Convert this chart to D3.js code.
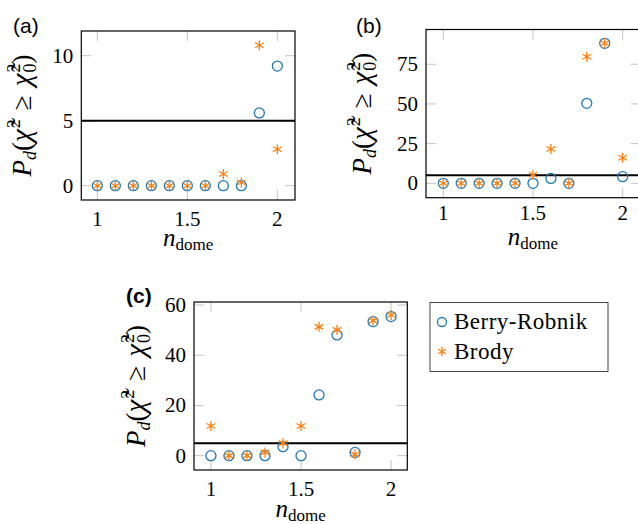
<!DOCTYPE html>
<html>
<head>
<meta charset="utf-8">
<script src="https://cdn.jsdelivr.net/npm/d3@7"></script>
<style>
  html, body { margin: 0; padding: 0; background: #fff; }
  svg { display: block; }
</style>
</head>
<body>
<svg id="chart" width="638" height="524"></svg>
<script>
// Dome exponent values shared by all panels
const nDome = [1.0, 1.1, 1.2, 1.3, 1.4, 1.5, 1.6, 1.7, 1.8, 1.9, 2.0];

// P_d (%) for each fit, per panel
const berryA = [0, 0, 0, 0, 0, 0, 0, 0, 0, 5.6, 9.2];
const brodyA = [0, 0, 0, 0, 0, 0, 0, 0.9, 0.25, 10.8, 2.8];
const berryB = [0, 0, 0, 0, 0, 0, 3.1, 0, 50.4, 88.2, 4.2];
const brodyB = [0, 0, 0, 0, 0, 5.4, 21.6, 0, 79.7, 88.2, 16.1];
const berryC = [0, 0, 0, 0, 3.6, 0, 24.2, 48.1, 1.3, 53.4, 55.4];
const brodyC = [11.8, 0, 0, 1.3, 5.0, 11.8, 51.3, 50.1, 0.5, 53.8, 56.0];

// Significance threshold (%)
const threshold = 5;

// Tick values
const xTicks = [1, 1.5, 2];
const yTicksA = [0, 5, 10];
const yTicksB = [0, 25, 50, 75];
const yTicksC = [0, 20, 40, 60];

const seriesNames = ["Berry-Robnik", "Brody"];

const BLUE = "#1f77b4";
const ORANGE = "#ff7f0e";
const SERIF = "'Liberation Serif', 'DejaVu Serif', serif";
const SANS = "'Liberation Sans', Arial, sans-serif";

const svg = d3.select("#chart");

// six-armed asterisk marker
function asteriskPath(r) {
  const p = d3.path();
  [90, 30, 150].forEach(a => {
    const t = a * Math.PI / 180;
    p.moveTo(-r * Math.cos(t), -r * Math.sin(t));
    p.lineTo(r * Math.cos(t), r * Math.sin(t));
  });
  return p.toString();
}

function drawPanel(cfg) {
  const g = svg.append("g");
  const x = d3.scaleLinear().domain(cfg.xDomain).range([cfg.left, cfg.right]);
  const y = d3.scaleLinear().domain(cfg.yDomain).range([cfg.bottom, cfg.top]);
  const tickLen = 10;

  // light tick marks inside the frame on all sides
  const tg = g.append("g").attr("stroke", "#c4c4c4").attr("stroke-width", 1);
  cfg.xTicks.forEach(v => {
    tg.append("line").attr("x1", x(v)).attr("x2", x(v)).attr("y1", cfg.bottom).attr("y2", cfg.bottom - tickLen);
    tg.append("line").attr("x1", x(v)).attr("x2", x(v)).attr("y1", cfg.top).attr("y2", cfg.top + tickLen);
  });
  cfg.yTicks.forEach(v => {
    tg.append("line").attr("y1", y(v)).attr("y2", y(v)).attr("x1", cfg.left).attr("x2", cfg.left + tickLen);
    tg.append("line").attr("y1", y(v)).attr("y2", y(v)).attr("x1", cfg.right).attr("x2", cfg.right - tickLen);
  });

  // threshold line
  g.append("line")
    .attr("x1", cfg.left).attr("x2", cfg.right)
    .attr("y1", y(threshold)).attr("y2", y(threshold))
    .attr("stroke", "#000").attr("stroke-width", 2);

  // Berry-Robnik: open circles
  g.append("g").selectAll("circle")
    .data(nDome.map((n, i) => [n, cfg.berry[i]]))
    .join("circle")
    .attr("cx", d => x(d[0])).attr("cy", d => y(d[1])).attr("r", 5)
    .attr("fill", "none").attr("stroke", BLUE).attr("stroke-width", 1.3);

  // Brody: asterisks
  g.append("g").selectAll("path")
    .data(nDome.map((n, i) => [n, cfg.brody[i]]))
    .join("path")
    .attr("transform", d => `translate(${x(d[0])},${y(d[1])})`)
    .attr("d", asteriskPath(5))
    .attr("fill", "none").attr("stroke", ORANGE).attr("stroke-width", 1.3);

  // frame
  g.append("rect")
    .attr("x", cfg.left).attr("y", cfg.top)
    .attr("width", cfg.right - cfg.left).attr("height", cfg.bottom - cfg.top)
    .attr("fill", "none").attr("stroke", "#000").attr("stroke-width", 1.2);

  // tick labels
  const fmt = v => String(v);
  g.append("g").selectAll("text").data(cfg.xTicks).join("text")
    .attr("font-family", SERIF)
    .attr("x", d => x(d)).attr("y", cfg.bottom + cfg.xLabelOffset)
    .attr("text-anchor", "middle").attr("font-size", 21)
    .text(fmt);
  g.append("g").selectAll("text").data(cfg.yTicks).join("text")
    .attr("font-family", SERIF)
    .attr("x", cfg.left - 8).attr("y", d => y(d)).attr("dy", "0.33em")
    .attr("text-anchor", "end").attr("font-size", 21)
    .text(fmt);

  // x axis title: n_dome
  const xt = g.append("text").attr("font-family", SERIF)
    .attr("x", (cfg.left + Math.min(cfg.right, 638)) / 2 + (cfg.xTitleShift || 0))
    .attr("y", cfg.xTitleY).attr("text-anchor", "middle").attr("font-size", 25);
  xt.append("tspan").attr("font-style", "italic").text("n");
  xt.append("tspan").attr("font-size", 17).attr("dy", 4).text("dome");

  // y axis title: P_d(χ̃² ≥ χ̃₀²)
  const yt = g.append("text").attr("font-family", SERIF)
    .attr("transform", `translate(${cfg.yTitleX},${(cfg.top + cfg.bottom) / 2}) rotate(-90)`)
    .attr("text-anchor", "middle").attr("font-size", 27);
  yt.append("tspan").attr("font-style", "italic").text("P");
  yt.append("tspan").attr("font-style", "italic").attr("font-size", 18).attr("dy", 5).text("d");
  yt.append("tspan").attr("dy", -5).text("(");
  yt.append("tspan").attr("font-style", "italic").attr("font-size", 29).text("χ\u0303");
  yt.append("tspan").attr("font-size", 18).attr("dx", 1).attr("dy", -11).text("2");
  yt.append("tspan").attr("dy", 11).text("\u2004≥\u2004");
  yt.append("tspan").attr("font-style", "italic").attr("font-size", 29).text("χ\u0303");
  yt.append("tspan").attr("font-size", 18).attr("dx", 1).attr("dy", -11).text("2");
  yt.append("tspan").attr("font-size", 18).attr("dx", -9).attr("dy", 16).text("0");
  yt.append("tspan").attr("dy", -5).text(")");

  // panel tag
  svg.append("text").attr("font-family", SANS)
    .attr("x", cfg.tagX).attr("y", cfg.tagY)
    .attr("font-size", 21).attr("font-weight", cfg.tagBold ? "bold" : "normal")
    .text(cfg.tag);
}

drawPanel({
  tag: "(a)", tagX: 13, tagY: 33,
  left: 81.3, right: 295, top: 31, bottom: 200,
  xDomain: [0.911, 2.098], yDomain: [-1.1, 11.9],
  xTicks: xTicks, yTicks: yTicksA,
  berry: berryA, brody: brodyA,
  xLabelOffset: 26, xTitleY: 246, yTitleX: 31
});

drawPanel({
  tag: "(b)", tagX: 356, tagY: 33,
  left: 426, right: 640.6, top: 29.5, bottom: 197.7,
  xDomain: [0.9036, 2.1], yDomain: [-9.07, 96.9],
  xTicks: xTicks, yTicks: yTicksB,
  berry: berryB, brody: brodyB,
  xLabelOffset: 22, xTitleY: 245, xTitleShift: 1, yTitleX: 371
});

drawPanel({
  tag: "(c)", tagX: 126, tagY: 303, tagBold: true,
  left: 194, right: 407.3, top: 302, bottom: 470,
  xDomain: [0.906, 2.09], yDomain: [-5.7, 61.2],
  xTicks: xTicks, yTicks: yTicksC,
  berry: berryC, brody: brodyC,
  xLabelOffset: 26, xTitleY: 517, yTitleX: 145
});

// legend
const leg = svg.append("g");
leg.append("rect").attr("x", 430).attr("y", 302.5).attr("width", 178).attr("height", 69)
  .attr("fill", "#fff").attr("stroke", "#444").attr("stroke-width", 1);
seriesNames.forEach((name, i) => {
  const cy = 322 + i * 29.5;
  if (i === 0) {
    leg.append("circle").attr("cx", 442).attr("cy", cy).attr("r", 4.5)
      .attr("fill", "none").attr("stroke", BLUE).attr("stroke-width", 1.3);
  } else {
    leg.append("path").attr("transform", `translate(442,${cy})`).attr("d", asteriskPath(4.5))
      .attr("fill", "none").attr("stroke", ORANGE).attr("stroke-width", 1.3);
  }
  leg.append("text").attr("font-family", SERIF)
    .attr("x", 454).attr("y", cy + 7).attr("font-size", 23)
    .attr("letter-spacing", 0.5)
    .text(name);
});
</script>
</body>
</html>
